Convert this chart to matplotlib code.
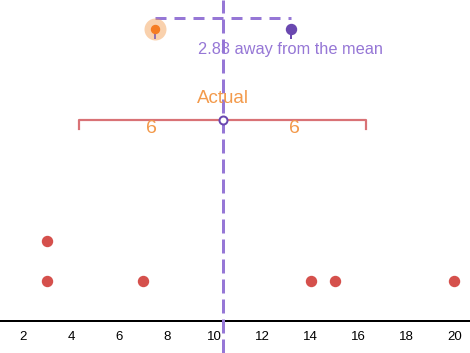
import matplotlib
matplotlib.use("Agg")
import matplotlib.pyplot as plt
import numpy as np

plt.rcParams['font.family'] = ['Liberation Sans', 'DejaVu Sans']
plt.rcParams['lines.scale_dashes'] = False

values = [3, 3, 7, 14, 15, 20]
xticks = [2, 4, 6, 8, 10, 12, 14, 16, 18, 20]
guess = 7.5          # the orange guess point
spread = 6           # half width of the bracket
label_away = "2.83 away from the mean"

mean = np.mean(values)
dist = abs(mean - guess)

red = '#d5504c'
purple = '#9677d6'
dark_purple = '#6a48b0'
orange = '#f39a4b'
px = 0.72  # points per pixel at dpi 100

fig = plt.figure(figsize=(4.7, 3.53), dpi=100)
ax = fig.add_axes([0, 0, 1, 1])
ax.set_xlim(1.024, 20.66)
ax.set_ylim(-0.8, 8.025)
ax.axis('off')

# stacked dots
counts = {}
for v in values:
    counts[v] = counts.get(v, 0) + 1
    ax.plot(v, counts[v], 'o', color=red, ms=10 * px, zorder=3)

# number line
ax.axhline(0, color='black', lw=2 * px)
for t in xticks:
    ax.text(t, -0.4, str(t), ha='center', va='center', fontsize=9.5)

# mean line
ax.axvline(mean, color=purple, lw=3 * px, dashes=(14 * px, 6 * px), zorder=2)

# bracket of +- spread
by = 5.025
ax.plot([mean - spread, mean - spread, mean + spread, mean + spread],
        [by - 0.22, by, by, by - 0.22], color='#d56367', lw=2.2 * px, alpha=0.9)
ax.plot(mean, by, 'o', ms=8 * px, mfc='white', mec=dark_purple, mew=2 * px, zorder=4)
ax.text(mean, by + 0.53, "Actual", ha='center', va='center', fontsize=13.5, color=orange)
for xx in [mean - spread / 2, mean + spread / 2]:
    ax.text(xx, by - 0.22, str(spread), ha='center', va='center', fontsize=14, color=orange)

# distance of guess from mean
ty = 7.575
dy = 7.3
ax.plot([guess, mean + dist], [ty, ty], color=purple, lw=3 * px, dashes=(11 * px, 8 * px))
ax.plot(guess, dy, 'o', ms=22 * px, color=orange, alpha=0.45, mew=0, zorder=3)
ax.plot([guess, guess], [dy, dy - 0.22], color=dark_purple, lw=2 * px, alpha=0.7, zorder=4)
ax.plot(guess, dy, 'o', ms=8 * px, color='#f57c22', zorder=5)
ax.plot([mean + dist, mean + dist], [dy, dy - 0.22], color=dark_purple, lw=2 * px, zorder=4)
ax.plot(mean + dist, dy, 'o', ms=10 * px, color=dark_purple, zorder=5)
ax.text(mean + dist, dy - 0.5, label_away, ha='center', va='center', fontsize=11.8, color=purple)

fig.savefig("out.png", dpi=100)
